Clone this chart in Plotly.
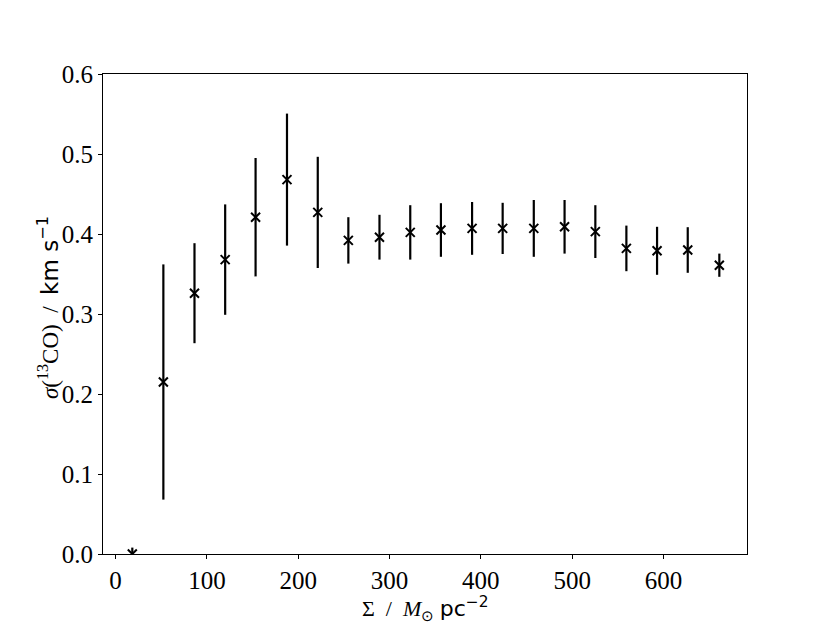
import plotly.graph_objects as go

# surface density bins (M_sun pc^-2)
sigma_gas = [18.3, 52.3, 86.4, 120.0, 153.3, 187.7, 221.4, 254.9, 289.0, 322.7,
             356.3, 390.4, 423.9, 458.0, 491.7, 525.4, 559.4, 593.0, 626.6, 661.2]
# 13CO velocity dispersion (km/s) and its error
disp = [0.0, 0.215, 0.326, 0.368, 0.421, 0.468, 0.427, 0.392, 0.396, 0.402,
        0.405, 0.407, 0.407, 0.407, 0.409, 0.403, 0.382, 0.379, 0.380, 0.361]
disp_err = [0.008, 0.147, 0.0625, 0.069, 0.074, 0.0825, 0.0695, 0.029, 0.028, 0.034,
            0.0335, 0.033, 0.032, 0.0355, 0.0335, 0.033, 0.0285, 0.030, 0.0285, 0.0145]

x_ticks = [0, 100, 200, 300, 400, 500, 600]
y_ticks = [0.0, 0.1, 0.2, 0.3, 0.4, 0.5, 0.6]

font_serif = "Liberation Serif"
sans = '<span style="font-family:DejaVu Sans">%s</span>'

x_title = 'Σ  /  <i>M</i><sub>⊙</sub> ' + sans % 'pc<sup>−2</sup>'
y_title = '<i>σ</i>(<sup>13</sup>CO)  /  ' + sans % 'km s<sup>−1</sup>'

fig = go.Figure(
    data=[go.Scatter(
        x=sigma_gas,
        y=disp,
        mode='markers',
        marker=dict(symbol='x-thin', size=9, color='black',
                    line=dict(color='black', width=2)),
        error_y=dict(type='data', array=disp_err, visible=True,
                     color='black', thickness=2.2, width=0),
        cliponaxis=True,
        showlegend=False,
    )],
    layout=go.Layout(
        width=830,
        height=623,
        paper_bgcolor='white',
        plot_bgcolor='white',
        # page body adds 8px, so margins are shifted
        margin=dict(l=95, r=91, t=66, b=77),
        font=dict(family=font_serif, size=25, color='black'),
        xaxis=dict(
            range=[-13.8, 691.5],
            tickvals=x_ticks,
            ticktext=[str(v) for v in x_ticks],
            ticks='outside', ticklen=4, tickwidth=1, tickcolor='black',
            showline=True, linecolor='black', linewidth=1, mirror=True,
            showgrid=False, zeroline=False,
        ),
        yaxis=dict(
            range=[0, 0.6],
            tickvals=y_ticks,
            ticktext=['%.1f' % v for v in y_ticks],
            ticks='outside', ticklen=4, tickwidth=1, tickcolor='black',
            showline=True, linecolor='black', linewidth=1, mirror=True,
            showgrid=False, zeroline=False,
        ),
        annotations=[
            dict(text=x_title, xref='paper', yref='paper', x=0.5, y=0,
                 yshift=-54, xanchor='center', yanchor='middle',
                 showarrow=False, font=dict(size=22)),
            dict(text=y_title, xref='paper', yref='paper', x=0, y=0.5125,
                 xshift=-55, xanchor='center', yanchor='middle',
                 textangle=-90, showarrow=False, font=dict(size=23)),
        ],
    ),
)

fig.write_html("out.html")
